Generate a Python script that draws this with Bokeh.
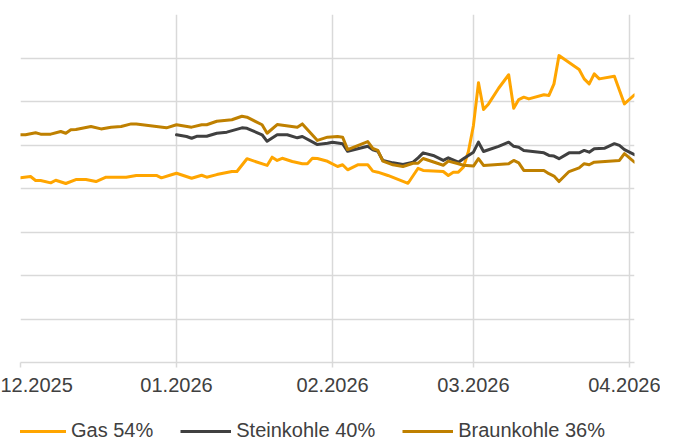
import pandas as pd
from bokeh.plotting import figure
from bokeh.layouts import column
from bokeh.models import (Range1d, FixedTicker, DatetimeTickFormatter, Legend, LegendItem)
from bokeh.embed import file_html
from bokeh.resources import INLINE

# ---------------- data ----------------
gas_dates = ["2025-12-01", "2025-12-03", "2025-12-04", "2025-12-05", "2025-12-07", "2025-12-08",
             "2025-12-10", "2025-12-12", "2025-12-14", "2025-12-16", "2025-12-18", "2025-12-22",
             "2025-12-24", "2025-12-28", "2025-12-29", "2025-12-31", "2026-01-01", "2026-01-04",
             "2026-01-06", "2026-01-07", "2026-01-09", "2026-01-12", "2026-01-13", "2026-01-15",
             "2026-01-19", "2026-01-20", "2026-01-21", "2026-01-22", "2026-01-24", "2026-01-26",
             "2026-01-27", "2026-01-28", "2026-01-29", "2026-01-31", "2026-02-02", "2026-02-03",
             "2026-02-04", "2026-02-06", "2026-02-08", "2026-02-09", "2026-02-10", "2026-02-12",
             "2026-02-16", "2026-02-18", "2026-02-19", "2026-02-21", "2026-02-23", "2026-02-24",
             "2026-02-25", "2026-02-26", "2026-02-27", "2026-02-28", "2026-03-01", "2026-03-02",
             "2026-03-03", "2026-03-04", "2026-03-06", "2026-03-08", "2026-03-09", "2026-03-10",
             "2026-03-11", "2026-03-12", "2026-03-15", "2026-03-16", "2026-03-17", "2026-03-18",
             "2026-03-22", "2026-03-23", "2026-03-24", "2026-03-25", "2026-03-26", "2026-03-29",
             "2026-03-31", "2026-04-02"]
gas_values = [84.9, 85.5, 83.7, 83.7, 82.6, 83.8, 82.3, 84.1, 84.1, 83.2, 85.2, 85.2,
              86.0, 86.0, 84.9, 86.3, 87.0, 84.7, 86.1, 85.2, 86.4, 87.8, 87.8, 93.7,
              90.6, 94.4, 92.9, 93.9, 92.4, 91.4, 91.4, 93.9, 93.8, 92.5, 90.1, 90.9,
              88.6, 90.9, 90.9, 88.0, 87.5, 86.0, 82.4, 89.3, 88.3, 88.0, 87.8, 86.0,
              87.5, 87.5, 89.8, 97.0, 109.0, 128.6, 116.3, 118.9, 126.1, 132.3, 116.9, 120.9,
              122.0, 121.2, 123.1, 122.8, 128.1, 141.1, 134.7, 130.4, 128.1, 132.7, 130.4, 131.6,
              118.9, 123.1]

stein_dates = ["2026-01-01", "2026-01-03", "2026-01-04", "2026-01-05", "2026-01-07", "2026-01-09",
               "2026-01-11", "2026-01-14", "2026-01-15", "2026-01-18", "2026-01-19", "2026-01-21",
               "2026-01-23", "2026-01-25", "2026-01-26", "2026-01-29", "2026-01-31", "2026-02-01",
               "2026-02-03", "2026-02-04", "2026-02-06", "2026-02-08", "2026-02-09", "2026-02-10",
               "2026-02-11", "2026-02-13", "2026-02-15", "2026-02-17", "2026-02-18", "2026-02-19",
               "2026-02-21", "2026-02-23", "2026-02-24", "2026-02-26", "2026-02-27", "2026-03-01",
               "2026-03-02", "2026-03-03", "2026-03-04", "2026-03-06", "2026-03-08", "2026-03-09",
               "2026-03-10", "2026-03-11", "2026-03-15", "2026-03-16", "2026-03-17", "2026-03-18",
               "2026-03-20", "2026-03-22", "2026-03-23", "2026-03-24", "2026-03-25", "2026-03-27",
               "2026-03-29", "2026-03-30", "2026-03-31", "2026-04-02"]
stein_values = [104.7, 103.9, 103.1, 104.0, 104.0, 105.4, 105.9, 107.9, 107.7, 104.7, 101.7, 104.7,
                104.7, 103.3, 103.9, 100.2, 100.8, 101.3, 100.6, 97.1, 98.3, 99.4, 97.8, 97.1,
                92.9, 91.8, 91.0, 92.1, 94.1, 96.4, 95.2, 92.9, 94.1, 92.1, 93.7, 96.7,
                101.3, 97.0, 97.8, 99.4, 101.3, 99.4, 99.0, 97.5, 96.4, 95.2, 94.9, 93.7,
                96.4, 96.4, 97.5, 96.7, 98.3, 98.5, 100.6, 99.8, 97.9, 95.5]

braun_dates = ["2025-12-01", "2025-12-02", "2025-12-04", "2025-12-05", "2025-12-07", "2025-12-09",
               "2025-12-10", "2025-12-11", "2025-12-12", "2025-12-15", "2025-12-17", "2025-12-19",
               "2025-12-21", "2025-12-23", "2025-12-24", "2025-12-30", "2026-01-01", "2026-01-04",
               "2026-01-06", "2026-01-07", "2026-01-09", "2026-01-12", "2026-01-14", "2026-01-15",
               "2026-01-18", "2026-01-19", "2026-01-21", "2026-01-25", "2026-01-26", "2026-01-29",
               "2026-01-31", "2026-02-02", "2026-02-03", "2026-02-04", "2026-02-08", "2026-02-09",
               "2026-02-10", "2026-02-11", "2026-02-13", "2026-02-15", "2026-02-17", "2026-02-18",
               "2026-02-19", "2026-02-23", "2026-02-24", "2026-02-26", "2026-02-27", "2026-03-01",
               "2026-03-02", "2026-03-03", "2026-03-08", "2026-03-09", "2026-03-10", "2026-03-11",
               "2026-03-15", "2026-03-16", "2026-03-17", "2026-03-18", "2026-03-20", "2026-03-22",
               "2026-03-23", "2026-03-24", "2026-03-25", "2026-03-30", "2026-03-31", "2026-04-02"]
braun_values = [104.7, 104.7, 105.6, 105.0, 105.0, 106.2, 105.4, 107.0, 107.1, 108.5, 107.4, 108.2,
                108.5, 109.7, 109.7, 107.9, 109.3, 108.2, 109.3, 109.3, 110.9, 111.6, 113.2, 112.8,
                109.3, 105.4, 109.4, 108.2, 109.7, 102.1, 103.6, 103.9, 103.6, 97.9, 101.6, 98.4,
                97.5, 92.6, 90.9, 90.1, 91.6, 91.6, 93.8, 90.7, 92.6, 91.4, 90.7, 90.3,
                93.7, 90.6, 91.4, 92.9, 91.8, 88.3, 88.3, 86.8, 85.7, 83.2, 87.8, 89.5,
                91.4, 90.9, 92.1, 92.9, 96.0, 92.1]

month_ticks = ["2025-12-01", "2026-01-01", "2026-02-01", "2026-03-01", "2026-04-01"]
y_ticks = [0, 20, 40, 60, 80, 100, 120, 140, 160]

series_names = ["Gas 54%", "Steinkohle 40%", "Braunkohle 36%"]
series_colors = ["#FFA500", "#404040", "#BF8000"]

# ---------------- main figure ----------------
FONT = "Liberation Sans"
GRID = "#D9D9D9"
TEXT = "#404040"

x_start = pd.Timestamp("2025-12-01")
x_end = pd.Timestamp("2026-04-02")
x_rng = Range1d(x_start, x_end)

p = figure(frame_width=614, frame_height=348, x_axis_type="datetime",
           x_range=x_rng, y_range=Range1d(0, 160),
           output_backend="svg", toolbar_location=None,
           min_border_left=20, min_border_right=26, min_border_top=14, min_border_bottom=45)
p.outline_line_color = None
p.background_fill_color = "white"
p.border_fill_color = "white"

tick_ms = [pd.Timestamp(t).value / 1e6 for t in month_ticks]

xa = p.xaxis[0]
xa.ticker = FixedTicker(ticks=tick_ms)
fmt = "%m.%Y"
xa.formatter = DatetimeTickFormatter(milliseconds=fmt, seconds=fmt, minsec=fmt, minutes=fmt,
                                     hourmin=fmt, hours=fmt, days=fmt, months=fmt, years=fmt)
xa.axis_line_color = GRID
xa.axis_line_width = 1.5
xa.major_tick_line_color = GRID
xa.major_tick_line_width = 1.5
xa.major_tick_out = 5
xa.major_tick_in = 0
xa.minor_tick_line_color = None
xa.major_label_text_font = FONT
xa.major_label_text_font_size = "20px"
xa.major_label_text_color = TEXT
xa.major_label_standoff = 10

# y axis labels are cut off in the reference
p.yaxis.visible = False

p.xgrid.ticker = FixedTicker(ticks=tick_ms)
p.xgrid.grid_line_color = GRID
p.xgrid.grid_line_width = 1.5
p.ygrid.ticker = FixedTicker(ticks=y_ticks)
p.ygrid.grid_line_color = GRID
p.ygrid.grid_line_width = 1.5

series = [(gas_dates, gas_values, series_colors[0]),
          (stein_dates, stein_values, series_colors[1]),
          (braun_dates, braun_values, series_colors[2])]

for dates, vals, col in series:
    p.line(x=pd.to_datetime(dates), y=vals, line_color=col, line_width=3,
           line_join="round", line_cap="round")

# ---------------- legend strip (same series, value range kept out of view) ----------------
leg = figure(width=660, height=38, x_axis_type="datetime",
             x_range=x_rng, y_range=Range1d(1000, 1001),
             output_backend="svg", toolbar_location=None,
             x_axis_location=None, y_axis_location=None, min_border=0)
leg.grid.visible = False
leg.outline_line_color = None
leg.background_fill_color = "white"
leg.border_fill_color = "white"

leg_renderers = [leg.line(x=pd.to_datetime(d), y=v, line_color=c, line_width=3)
                 for d, v, c in series]

legend = Legend(items=[LegendItem(label=n, renderers=[r]) for n, r in zip(series_names, leg_renderers)],
                orientation="horizontal", location=(-5, 3))
legend.label_text_font = FONT
legend.label_text_font_size = "20px"
legend.label_text_color = TEXT
legend.glyph_width = 51
legend.glyph_height = 22
legend.label_height = 22
legend.label_standoff = 5
legend.spacing = 27
legend.padding = 0
legend.margin = 0
legend.border_line_color = None
legend.background_fill_alpha = 0
leg.add_layout(legend, "center")

layout = column(p, leg)

open("out.html", "w").write(file_html(layout, INLINE))
